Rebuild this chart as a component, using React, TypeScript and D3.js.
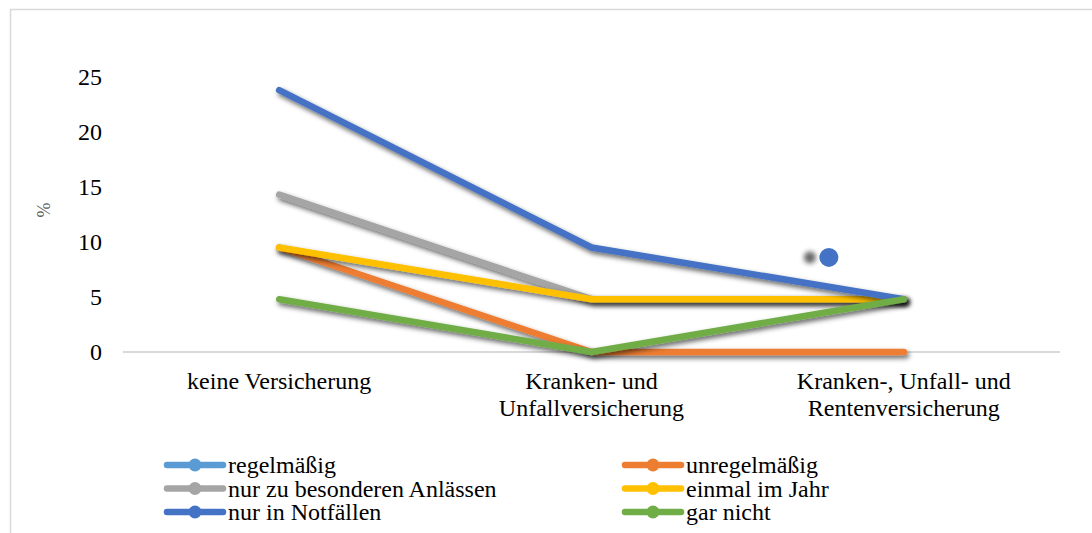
import React from "react";
import * as d3 from "d3";

// Insurance categories (x axis), each label split into lines
const categories: string[][] = [
  ["keine Versicherung"],
  ["Kranken- und", "Unfallversicherung"],
  ["Kranken-, Unfall- und", "Rentenversicherung"],
];

const seriesNames = [
  "regelmäßig",
  "unregelmäßig",
  "nur zu besonderen Anlässen",
  "einmal im Jahr",
  "nur in Notfällen",
  "gar nicht",
];

const seriesColors = ["#5B9BD5", "#ED7D31", "#A5A5A5", "#FFC000", "#4472C4", "#70AD47"];

// Percent values per series (null = no value plotted)
const regelmaessig: (number | null)[] = [null, null, null];
const unregelmaessig: (number | null)[] = [9.5, 0, 0];
const besondereAnlaesse: (number | null)[] = [14.3, 4.8, 4.8];
const einmalImJahr: (number | null)[] = [9.5, 4.8, 4.8];
const nurInNotfaellen: (number | null)[] = [23.8, 9.5, 4.8];
const garNicht: (number | null)[] = [4.8, 0, 4.8];

const seriesValues = [
  regelmaessig,
  unregelmaessig,
  besondereAnlaesse,
  einmalImJahr,
  nurInNotfaellen,
  garNicht,
];

const yTicks = [0, 5, 10, 15, 20, 25];

// Lone marker of "nur in Notfällen" sitting between the last two categories
const loneMarker = { position: 1.76, value: 8.6, series: 4 };

const W = 1092;
const H = 533;
const FONT = "'Liberation Serif', 'Times New Roman', serif";
const FS = 24;

export default function App() {
  const x = d3.scaleBand<number>().domain(categories.map((_, i) => i)).range([123, 1060]);
  const xCenter = (i: number) => (x(i) as number) + x.bandwidth() / 2;
  const xPos = d3
    .scaleLinear()
    .domain([0, categories.length - 1])
    .range([xCenter(0), xCenter(categories.length - 1)]);
  const y = d3.scaleLinear().domain([0, 25]).range([352, 77]);

  const line = d3
    .line<number | null>()
    .defined((d) => d !== null)
    .x((_, i) => xCenter(i))
    .y((d) => y(d as number));

  const legendCols = [167, 625];
  const legendRows = [465, 488.5, 512];

  return (
    <svg
      width={W}
      height={H}
      style={{ position: "absolute", left: 0, top: 0, background: "#fff", fontFamily: FONT }}
    >
      <defs>
        <filter id="shadow" x="-10%" y="-30%" width="120%" height="160%">
          <feDropShadow dx="2" dy="3" stdDeviation="2.4" floodColor="#000" floodOpacity="0.6" />
        </filter>
        <filter id="blurDot" x="-100%" y="-100%" width="300%" height="300%">
          <feGaussianBlur stdDeviation="2.5" />
        </filter>
      </defs>

      <rect x={10.5} y={9.5} width={1200} height={700} fill="#fff" stroke="#d9d9d9" strokeWidth={1.5} />

      {/* y axis tick labels */}
      {yTicks.map((t) => (
        <text key={t} x={102} y={y(t) + 8} textAnchor="end" fontSize={FS} fill="#000">
          {t}
        </text>
      ))}

      <text
        transform={`translate(${50},${210}) rotate(-90)`}
        textAnchor="middle"
        fontSize={18}
        fill="#595959"
      >
        %
      </text>

      {/* x axis */}
      <line x1={123} x2={1060} y1={y(0)} y2={y(0)} stroke="#d9d9d9" strokeWidth={2} />
      {categories.map((lines, i) => (
        <text key={i} x={xCenter(i)} textAnchor="middle" fontSize={FS} fill="#000">
          {lines.map((l, j) => (
            <tspan key={j} x={xCenter(i)} y={389 + j * 27}>
              {l}
            </tspan>
          ))}
        </text>
      ))}

      {/* series lines */}
      {seriesValues.map((vals, s) => (
        <path
          key={s}
          d={line(vals) || ""}
          fill="none"
          stroke={seriesColors[s]}
          strokeWidth={6.5}
          strokeLinecap="round"
          strokeLinejoin="round"
          filter="url(#shadow)"
        />
      ))}

      {/* lone marker */}
      <circle
        cx={xPos(loneMarker.position) - 19}
        cy={y(loneMarker.value)}
        r={6}
        fill="#333"
        opacity={0.75}
        filter="url(#blurDot)"
      />
      <circle
        cx={xPos(loneMarker.position)}
        cy={y(loneMarker.value)}
        r={9.5}
        fill={seriesColors[loneMarker.series]}
      />

      {/* legend */}
      {seriesNames.map((name, s) => {
        const col = s % 2;
        const row = Math.floor(s / 2);
        const lx = legendCols[col];
        const ly = legendRows[row];
        return (
          <g key={name}>
            <line
              x1={lx}
              x2={lx + 56}
              y1={ly}
              y2={ly}
              stroke={seriesColors[s]}
              strokeWidth={6.5}
              strokeLinecap="round"
            />
            <circle cx={lx + 28} cy={ly} r={6.5} fill={seriesColors[s]} />
            <text x={lx + 61} y={ly + 8} fontSize={FS} fill="#000">
              {name}
            </text>
          </g>
        );
      })}
    </svg>
  );
}
